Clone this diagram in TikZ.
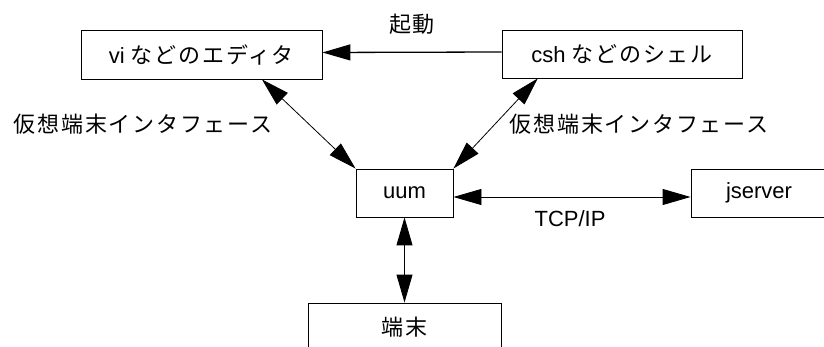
\documentclass[tikz,border=0pt]{standalone}
\usepackage{fontspec}
\setmainfont{Liberation Sans}
\newfontfamily\jp[LetterSpace=8]{Noto Sans CJK JP}
\usetikzlibrary{arrows.meta,calc}
\begin{document}
\begin{tikzpicture}[x=1pt,y=-1pt,
  box/.style={draw,line width=0.9pt,inner sep=0pt,font=\fontsize{22}{26}\selectfont},
  lbl/.style={inner sep=0pt,font=\fontsize{22}{26}\selectfont},
  arr/.style={-{Triangle[length=28pt,width=16pt]}},
  dbl/.style={{Triangle[length=28pt,width=16pt]}-{Triangle[length=28pt,width=16pt]}}]
\clip (0,0) rectangle (824,347);
\fill[white] (0,0) rectangle (824,347);
\node[box,minimum width=241pt,minimum height=49pt] (vi) at (201.5,54.5) {vi {\jp などのエディタ}};
\node[box,minimum width=240pt,minimum height=48pt] (csh) at (622,54) {csh {\jp などのシェル}};
\node[box,minimum width=97pt,minimum height=48pt] (uum) at (404.5,193) {uum};
\node[box,minimum width=136pt,minimum height=48pt] (js) at (759,193) {jserver};
\node[box,minimum width=193pt,minimum height=48pt] (term) at (404.5,327) {\jp 端末};
\node[lbl] (kido) at (412,24) {\jp 起動};
\node[lbl] (vtl) at (143,124) {\jp 仮想端末インタフェース};
\node[lbl] (vtr) at (639,124) {\jp 仮想端末インタフェース};
\node[lbl] (tcp) at (570,219) {TCP/IP};
\draw[arr,line width=1.3pt] ([yshift=2pt]csh.west) -- ([yshift=2pt]vi.east);
\draw[dbl,line width=0.8pt] ($(vi.south west)!0.75!(vi.south east)$) -- (uum.north west);
\draw[dbl,line width=0.8pt] ($(csh.south west)!0.15!(csh.south east)$) -- (uum.north east);
\draw[dbl,line width=0.9pt] ([yshift=-4pt]uum.east) -- ([yshift=-4pt]js.west);
\draw[dbl,line width=0.9pt] (uum.south) -- (term.north);
\end{tikzpicture}
\end{document}
